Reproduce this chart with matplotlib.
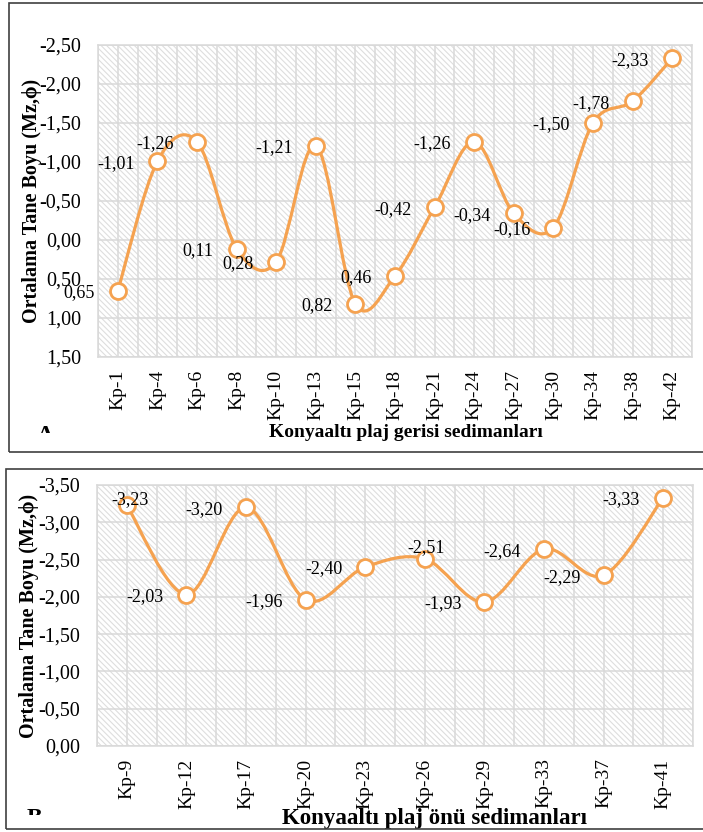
import matplotlib
matplotlib.use('Agg')
import matplotlib.pyplot as plt
from matplotlib.path import Path
from matplotlib.patches import PathPatch, Rectangle
from matplotlib.ticker import FixedLocator, FuncFormatter
from matplotlib.transforms import Bbox, TransformedBbox

plt.rcParams['font.family'] = ['Liberation Serif', 'DejaVu Serif']
plt.rcParams['hatch.linewidth'] = 0.8

# plaj gerisi (back-beach) samples
samples_a = ['Kp-1', 'Kp-4', 'Kp-6', 'Kp-8', 'Kp-10', 'Kp-13', 'Kp-15', 'Kp-18',
             'Kp-21', 'Kp-24', 'Kp-27', 'Kp-30', 'Kp-34', 'Kp-38', 'Kp-42']
mz_a = [0.65, -1.01, -1.26, 0.11, 0.28, -1.21, 0.82, 0.46,
        -0.42, -1.26, -0.34, -0.16, -1.50, -1.78, -2.33]

# plaj önü (foreshore) samples
samples_b = ['Kp-9', 'Kp-12', 'Kp-17', 'Kp-20', 'Kp-23', 'Kp-26', 'Kp-29',
             'Kp-33', 'Kp-37', 'Kp-41']
mz_b = [-3.23, -2.03, -3.20, -1.96, -2.40, -2.51, -1.93, -2.64, -2.29, -3.33]

yticks_a = [-2.5, -2.0, -1.5, -1.0, -0.5, 0.0, 0.5, 1.0, 1.5]
yticks_b = [-3.5, -3.0, -2.5, -2.0, -1.5, -1.0, -0.5, 0.0]

ORANGE = '#F5A250'
GRID = '#d9d9d9'
HATCH = '#dedede'
PX = 0.72  # points per pixel at 100 dpi


def comma(v, pos=None):
    return f'{v:.2f}'.replace('.', ',')


def smooth_path(xs, ys):
    # Catmull-Rom style bezier, similar to the spreadsheet "smoothed line"
    pts = list(zip(xs, ys))
    verts = [pts[0]]
    codes = [Path.MOVETO]
    n = len(pts)
    for i in range(n - 1):
        p0 = pts[i - 1] if i > 0 else pts[i]
        p1 = pts[i]
        p2 = pts[i + 1]
        p3 = pts[i + 2] if i + 2 < n else pts[i + 1]
        c1 = (p1[0] + (p2[0] - p0[0]) / 6, p1[1] + (p2[1] - p0[1]) / 6)
        c2 = (p2[0] - (p3[0] - p1[0]) / 6, p2[1] - (p3[1] - p1[1]) / 6)
        verts += [c1, c2, p2]
        codes += [Path.CURVE4] * 3
    return Path(verts, codes)


def draw_panel(ax, labels, values, yticks, ylim, xlabel, xlabel_size, special):
    n = len(labels)
    xs = list(range(n))
    bg = Rectangle((0, 0), 1, 1, transform=ax.transAxes, facecolor='white',
                   edgecolor=HATCH, hatch='\\' * 6, linewidth=0, zorder=0)
    ax.add_patch(bg)
    ax.set_facecolor('white')
    ax.set_xlim(-0.5, n - 0.5)
    ax.set_ylim(*ylim)
    ax.yaxis.set_major_locator(FixedLocator(yticks))
    ax.yaxis.set_major_formatter(FuncFormatter(comma))
    ax.set_xticks(xs)
    ax.set_xticklabels(labels, rotation=90, fontsize=14)
    ax.set_xticks([i - 0.5 for i in range(n + 1)], minor=True)
    ax.tick_params(axis='both', which='both', length=0)
    ax.tick_params(axis='y', labelsize=14.5, pad=12)
    ax.tick_params(axis='x', pad=9)
    ax.grid(True, axis='x', which='both', color=GRID, linewidth=1.1)
    ax.grid(True, axis='y', which='major', color=GRID, linewidth=1.1)
    ax.set_axisbelow(True)
    for s in ax.spines.values():
        s.set_color(GRID)
        s.set_linewidth(1.1)

    ax.add_patch(PathPatch(smooth_path(xs, values), facecolor='none',
                           edgecolor=ORANGE, linewidth=2.3, zorder=3))
    ax.plot(xs, values, linestyle='none', marker='o', markersize=11.5,
            markerfacecolor='white', markeredgecolor=ORANGE,
            markeredgewidth=2, zorder=4, clip_on=False)

    for i, v in enumerate(values):
        if i in special:
            dx, dy = special[i]
            ax.annotate(comma(v), (i, v), xytext=(dx * PX, dy * PX),
                        textcoords='offset points', ha='center', va='center',
                        fontsize=13, zorder=5)
        else:
            ax.annotate(comma(v), (i, v), xytext=(-23 * PX, -2 * PX),
                        textcoords='offset points', ha='right', va='center',
                        fontsize=13, zorder=5)

    ax.set_ylabel('Ortalama Tane Boyu (Mz,ϕ)', fontsize=14.5, fontweight='bold')
    ax.set_xlabel(xlabel, fontsize=xlabel_size, fontweight='bold')


fig = plt.figure(figsize=(7.03, 8.32), dpi=100)
W, H = 703, 832


def fig_box(x0, y0, x1, y1):
    # pixel box (top-left origin) -> figure fraction rect
    return [x0 / W, 1 - y1 / H, (x1 - x0) / W, (y1 - y0) / H]


ax_a = fig.add_axes(fig_box(98, 45, 692, 357))
ax_b = fig.add_axes(fig_box(97, 485, 693, 746))

draw_panel(ax_a, samples_a, mz_a, yticks_a, (1.5, -2.5),
           'Konyaaltı plaj gerisi sedimanları', 14, {})
draw_panel(ax_b, samples_b, mz_b, yticks_b, (0.0, -3.5),
           'Konyaaltı plaj önü sedimanları', 16.5, {0: (3, 6), 5: (1, 11)})

ax_a.yaxis.set_label_coords(-0.095, 0.5)
ax_b.yaxis.set_label_coords(-0.097, 0.5)
ax_a.xaxis.set_label_coords(0.519, -0.215)
ax_b.xaxis.set_label_coords(0.566, -0.238)

# panel frames (right side runs off the page)
for x0, y0, y1 in [(9, 3, 452), (6, 469, 829)]:
    fig.patches.append(Rectangle((x0 / W, 1 - y1 / H), 1.2, (y1 - y0) / H,
                                 transform=fig.transFigure, fill=False,
                                 edgecolor='#404040', linewidth=1.2))

# panel letters, partly hidden under the axis title box
for letter, x, base, cut in [('A', 45, 441, 433), ('B', 34, 824, 815)]:
    t = fig.text(x / W, 1 - base / H, letter, fontsize=17, fontweight='bold',
                 ha='center', va='baseline')
    t.set_clip_box(TransformedBbox(Bbox.from_extents(0, 1 - cut / H, 0.2, 1),
                                   fig.transFigure))

fig.savefig('out.png', dpi=100)
